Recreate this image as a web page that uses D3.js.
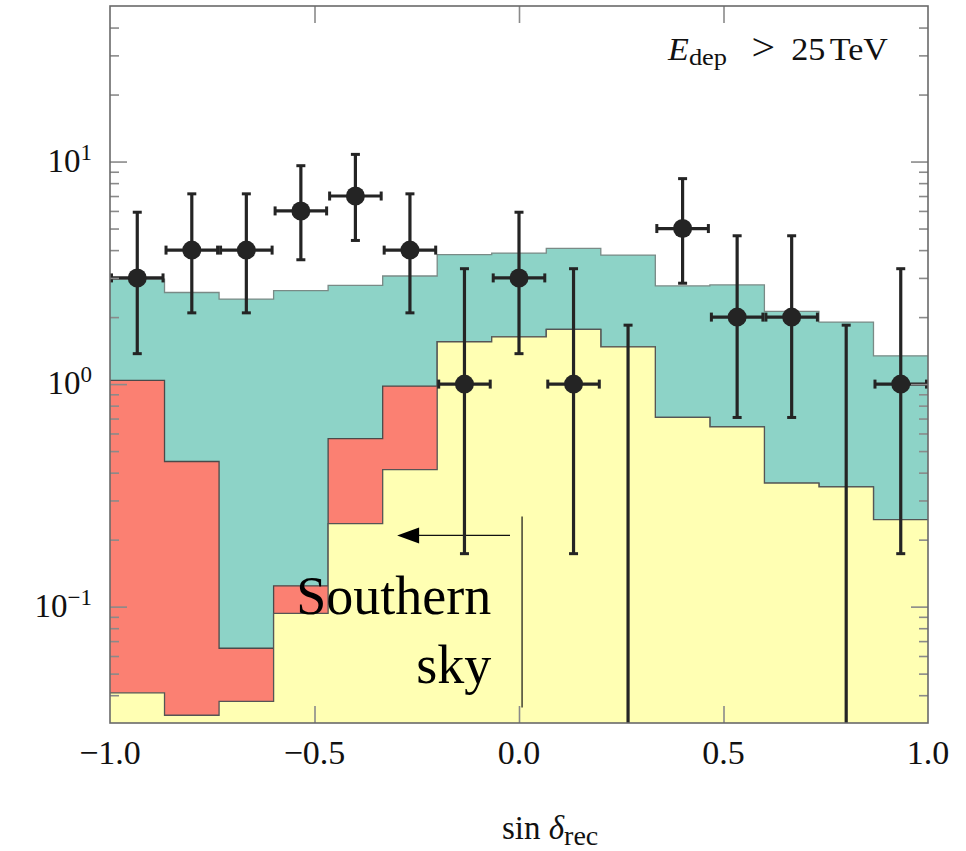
<!DOCTYPE html>
<html>
<head>
<meta charset="utf-8">
<script src="https://cdn.jsdelivr.net/npm/d3@7/dist/d3.min.js"></script>
<style>
  html, body { margin: 0; padding: 0; background: #fff; }
  svg { display: block; }
  text { font-family: "Liberation Serif", "DejaVu Serif", serif; fill: #111; }
</style>
</head>
<body>
<svg id="chart" width="966" height="851"></svg>
<script>
// Bin edges in sin(declination), 15 equal bins
const binEdges = [-1.0, -0.8667, -0.7333, -0.6, -0.4667, -0.3333, -0.2, -0.0667,
                  0.0667, 0.2, 0.3333, 0.4667, 0.6, 0.7333, 0.8667, 1.0];

// Stacked expectation (upper edge of each layer)
const tealTop   = [2.96, 2.58, 2.41, 2.63, 2.78, 3.06, 3.82, 3.88, 4.07, 3.80, 2.76, 2.79, 2.12, 1.90, 1.34];
const redTop    = [1.04, 0.449, 0.065, 0.124, 0.569, 0.98, 1.55, 1.63, 1.76, 1.47, 0.708, 0.642, 0.359, 0.345, 0.246];
const yellowTop = [0.041, 0.0325, 0.0375, 0.0933, 0.236, 0.413, 1.55, 1.63, 1.76, 1.47, 0.708, 0.642, 0.359, 0.345, 0.246];

// Observed events per bin with 68% interval
const observed = [3, 4, 4, 6, 7, 4, 1, 3, 1, 0, 5, 2, 2, 0, 1];
const obsLow   = [1.37, 2.09, 2.09, 3.62, 4.42, 2.09, 0.173, 1.37, 0.173, 0, 2.84, 0.708, 0.708, 0, 0.173];
const obsHigh  = [5.92, 7.16, 7.16, 9.58, 10.77, 7.16, 3.30, 5.92, 3.30, 1.84, 8.38, 4.64, 4.64, 1.84, 3.30];

// Axis ticks
const xTickValues = [-1.0, -0.5, 0.0, 0.5, 1.0];
const xTickLabels = ["\u22121.0", "\u22120.5", "0.0", "0.5", "1.0"];
const yMajorTicks = [0.1, 1, 10];
const yMajorBase = ["10", "10", "10"];
const yMajorExp = ["\u22121", "0", "1"];
const yMinorTicks = [0.04, 0.05, 0.06, 0.07, 0.08, 0.09,
                     0.2, 0.3, 0.4, 0.5, 0.6, 0.7, 0.8, 0.9,
                     2, 3, 4, 5, 6, 7, 8, 9, 20, 30, 40];

const svg = d3.select("#chart");
const L = 110, R = 928, T = 6, B = 723;

const x = d3.scaleLinear().domain([-1, 1]).range([L, R]);
const y = d3.scaleLog().domain([0.03, 50]).range([B, T]);

const plot = svg.append("g");
plot.append("clipPath").attr("id", "clip")
  .append("rect").attr("x", L).attr("y", T).attr("width", R - L).attr("height", B - T);
const layer = plot.append("g").attr("clip-path", "url(#clip)");

// Convert per-bin values into step points (last value repeated at the right edge)
function steps(vals) {
  const pts = vals.map((v, i) => ({ x: binEdges[i], v }));
  pts.push({ x: binEdges[binEdges.length - 1], v: vals[vals.length - 1] });
  return pts;
}
const area = d3.area().curve(d3.curveStepAfter)
  .x(d => x(d.x)).y0(B).y1(d => y(d.v));
const topLine = d3.line().curve(d3.curveStepAfter)
  .x(d => x(d.x)).y(d => y(d.v));

const layers = [
  { vals: tealTop, fill: "#8dd3c7", edge: "#7a8a86" },
  { vals: redTop, fill: "#fb8072", edge: "#4a4a4a" },
  { vals: yellowTop, fill: "#ffffb3", edge: "#555" }
];
layers.forEach(l => {
  const pts = steps(l.vals);
  layer.append("path").attr("d", area(pts)).attr("fill", l.fill);
  layer.append("path").attr("d", topLine(pts)).attr("fill", "none")
    .attr("stroke", l.edge).attr("stroke-width", 1.3);
});

// Southern-sky annotation
const ann = layer.append("g");
ann.append("line")
  .attr("x1", x(0.0075)).attr("x2", x(0.0075))
  .attr("y1", y(0.254)).attr("y2", y(0.0352))
  .attr("stroke", "#111").attr("stroke-width", 1.2);
const arrowY = y(0.209);
ann.append("line")
  .attr("x1", x(-0.022)).attr("x2", x(-0.26))
  .attr("y1", arrowY).attr("y2", arrowY)
  .attr("stroke", "#111").attr("stroke-width", 1.2);
const tipX = x(-0.298);
ann.append("path")
  .attr("d", `M${tipX},${arrowY} L${tipX + 22},${arrowY - 8} L${tipX + 22},${arrowY + 8} Z`)
  .attr("fill", "#000");
ann.append("text").attr("x", x(-0.068)).attr("y", y(0.093))
  .attr("text-anchor", "end").style("font-size", "54px").style("fill", "#000")
  .text("Southern");
ann.append("text").attr("x", x(-0.068)).attr("y", y(0.0452))
  .attr("text-anchor", "end").style("font-size", "54px").style("fill", "#000")
  .text("sky");

// Observed data with error bars
const ink = "#242424";
const pts = layer.append("g");
observed.forEach((n, i) => {
  const x0 = x(binEdges[i]), x1 = x(binEdges[i + 1]), xc = (x0 + x1) / 2;
  const yLo = obsLow[i] > 0 ? y(obsLow[i]) : B + 5;
  const yHi = y(obsHigh[i]);
  pts.append("line").attr("x1", xc).attr("x2", xc).attr("y1", yLo).attr("y2", yHi)
    .attr("stroke", ink).attr("stroke-width", 3.2);
  pts.append("line").attr("x1", xc - 4.5).attr("x2", xc + 4.5).attr("y1", yHi).attr("y2", yHi)
    .attr("stroke", ink).attr("stroke-width", 3);
  if (obsLow[i] > 0) {
    pts.append("line").attr("x1", xc - 4.5).attr("x2", xc + 4.5).attr("y1", yLo).attr("y2", yLo)
      .attr("stroke", ink).attr("stroke-width", 3);
  }
  if (n > 0) {
    const yc = y(n);
    pts.append("line").attr("x1", x0 + 1.5).attr("x2", x1 - 1.5).attr("y1", yc).attr("y2", yc)
      .attr("stroke", ink).attr("stroke-width", 3.2);
    [x0 + 1.5, x1 - 1.5].forEach(cx => {
      pts.append("line").attr("x1", cx).attr("x2", cx).attr("y1", yc - 4.5).attr("y2", yc + 4.5)
        .attr("stroke", ink).attr("stroke-width", 3);
    });
    pts.append("circle").attr("cx", xc).attr("cy", yc).attr("r", 9.5).attr("fill", ink);
  }
});

// Inward ticks on all four sides
const tickColor = "#8a8a8a";
function styleAxis(g) {
  g.select(".domain").remove();
  g.selectAll(".tick line").attr("stroke", tickColor).attr("stroke-width", 1.6);
  g.selectAll(".tick text").remove();
}
svg.append("g").attr("transform", `translate(0,${B})`)
  .call(d3.axisTop(x).tickValues([-0.5, 0, 0.5]).tickSize(17)).call(styleAxis);
svg.append("g").attr("transform", `translate(0,${T})`)
  .call(d3.axisBottom(x).tickValues([-0.5, 0, 0.5]).tickSize(17)).call(styleAxis);
svg.append("g").attr("transform", `translate(${L},0)`)
  .call(d3.axisRight(y).tickValues(yMajorTicks).tickSize(17)).call(styleAxis);
svg.append("g").attr("transform", `translate(${L},0)`)
  .call(d3.axisRight(y).tickValues(yMinorTicks).tickSize(9)).call(styleAxis);
svg.append("g").attr("transform", `translate(${R},0)`)
  .call(d3.axisLeft(y).tickValues(yMajorTicks).tickSize(17)).call(styleAxis);
svg.append("g").attr("transform", `translate(${R},0)`)
  .call(d3.axisLeft(y).tickValues(yMinorTicks).tickSize(9)).call(styleAxis);

// Frame
svg.append("rect").attr("x", L).attr("y", T).attr("width", R - L).attr("height", B - T)
  .attr("fill", "none").attr("stroke", "#6a6a6a").attr("stroke-width", 1.6);

// Tick labels
svg.append("g").selectAll("text").data(xTickValues).join("text")
  .attr("x", d => x(d)).attr("y", 764)
  .attr("text-anchor", "middle").style("font-size", "34px")
  .text((d, i) => xTickLabels[i]);

const yl = svg.append("g").selectAll("text").data(yMajorTicks).join("text")
  .attr("x", 92).attr("y", d => y(d) + 10)
  .attr("text-anchor", "end").style("font-size", "33px");
yl.append("tspan").text((d, i) => yMajorBase[i]);
yl.append("tspan").attr("dy", -12).style("font-size", "23px").text((d, i) => yMajorExp[i]);

// Axis title: sin δ_rec
const xt = svg.append("text").attr("x", 502).attr("y", 839).style("font-size", "33px");
xt.append("tspan").text("sin ");
xt.append("tspan").style("font-style", "italic").text("\u03b4");
xt.append("tspan").attr("dy", 6).style("font-size", "28px").text("rec");

// Energy threshold label (slightly widened math-style lettering)
const el = svg.append("text").attr("transform", "translate(668,60) scale(1.1,1)")
  .style("font-size", "31px");
el.append("tspan").attr("x", 0).style("font-style", "italic").text("E");
el.append("tspan").attr("x", 19).attr("dy", 5).style("font-size", "24px").text("dep");
el.append("tspan").attr("x", 76).attr("dy", -5).style("font-size", "38px").text(">");
el.append("tspan").attr("x", 112).text("25");
el.append("tspan").attr("x", 147).text("TeV");
</script>
</body>
</html>
